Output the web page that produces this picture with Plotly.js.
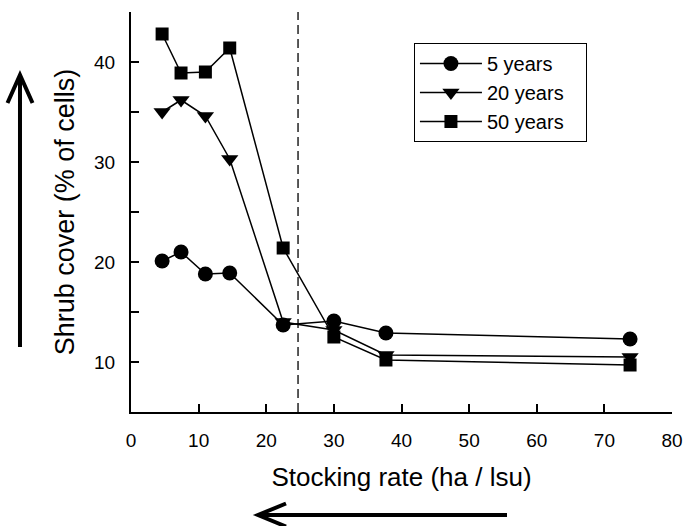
<!DOCTYPE html>
<html><head><meta charset="utf-8">
<script src="https://cdn.plot.ly/plotly-3.0.1.min.js"></script>
<style>html,body{margin:0;padding:0;background:#fff}#chart{width:686px;height:526px}</style>
</head><body><div id="chart"></div>
<script>
const stockingRate = [4.6, 7.4, 11.0, 14.6, 22.5, 30.0, 37.7, 73.8];
const years5  = [20.1, 21.0, 18.8, 18.9, 13.7, 14.1, 12.9, 12.3];
const years20 = [35.0, 36.2, 34.6, 30.3, 14.0, 13.2, 10.7, 10.5];
const years50 = [42.8, 38.9, 39.0, 41.4, 21.4, 12.5, 10.2, 9.7];
const seriesNames = ['5 years', '20 years', '50 years'];
const yTickVals = [10, 15, 20, 25, 30, 35, 40, 45];
const yTickText = ['10', '', '20', '', '30', '', '40', ''];
const xTickVals = [0, 10, 20, 30, 40, 50, 60, 70, 80];
const thresholdX = 24.7;

const FONT = 'Liberation Sans, Arial, sans-serif';
function tr(y, name, sym, size) {
  return {x: stockingRate, y: y, name: name + '\u00a0\u00a0\u00a0', type: 'scatter', mode: 'lines+markers',
    line: {color: '#000', width: 1.5},
    marker: {symbol: sym, size: size, color: '#000'}};
}
const data = [
  tr(years5, seriesNames[0], 'circle', 15),
  tr(years20, seriesNames[1], 'triangle-down', 15),
  tr(years50, seriesNames[2], 'square', 13)
];
const layout = {
  width: 686, height: 526,
  margin: {l: 131, r: 14, t: 12, b: 114},
  paper_bgcolor: '#fff', plot_bgcolor: '#fff',
  font: {family: FONT, color: '#000'},
  showlegend: true,
  legend: {x: 0.523, y: 0.9225, xanchor: 'left', yanchor: 'top', itemwidth: 62,
    bordercolor: '#000', borderwidth: 1, bgcolor: '#fff',
    font: {family: FONT, size: 20, color: '#000'}, tracegroupgap: 0},
  xaxis: {range: [0, 80], tickmode: 'array', tickvals: xTickVals, ticks: 'inside', ticklen: 8, tickwidth: 2,
    tickcolor: '#000', showline: true, linecolor: '#000', linewidth: 2,
    showgrid: false, zeroline: false, ticklabelstandoff: 10,
    tickfont: {family: FONT, size: 19, color: '#000'},
    title: {text: 'Stocking rate (ha / lsu)', font: {family: FONT, size: 26, color: '#000'}, standoff: 18}},
  yaxis: {range: [5, 45], tickmode: 'array', tickvals: yTickVals, ticktext: yTickText, ticks: 'inside', ticklen: 8, tickwidth: 2,
    tickcolor: '#000', showline: true, linecolor: '#000', linewidth: 2,
    showgrid: false, zeroline: false, ticklabelstandoff: 10,
    tickfont: {family: FONT, size: 19, color: '#000'},
    title: {text: 'Shrub cover (% of cells)', font: {family: FONT, size: 27, color: '#000'}, standoff: 12}},
  shapes: [
    {type: 'line', xref: 'x', yref: 'paper', x0: thresholdX, x1: thresholdX, y0: 0, y1: 1,
     line: {color: '#000', width: 1.3, dash: '9px,5px'}},
    {type: 'path', xref: 'paper', yref: 'paper',
     path: 'M-0.2052,0.1625 L-0.2052,0.8425 M-0.2283,0.7725 L-0.2052,0.8425 L-0.1820,0.7725',
     line: {color: '#000', width: 4}},
    {type: 'path', xref: 'paper', yref: 'paper',
     path: 'M0.6950,-0.2575 L0.2348,-0.2575 M0.2865,-0.2288 L0.2348,-0.2575 L0.2865,-0.2863',
     line: {color: '#000', width: 4}}
  ]
};
Plotly.newPlot('chart', data, layout, {displayModeBar: false, staticPlot: true});
</script></body></html>
